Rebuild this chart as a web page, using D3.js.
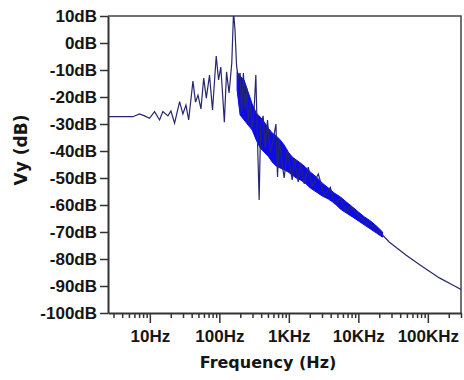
<!DOCTYPE html>
<html>
<head>
<meta charset="utf-8">
<script src="https://cdn.jsdelivr.net/npm/d3@7"></script>
<style>
  body { margin: 0; background: #fff; }
  .axis .tick text { font-family: "Liberation Sans", Arial, sans-serif; font-weight: bold; font-size: 17px; fill: #151515; }
  .axis path, .axis line { stroke: #333; }
  .title { font-family: "DejaVu Sans", Verdana, sans-serif; font-weight: bold; fill: #151515; }
</style>
</head>
<body>
<svg id="chart" width="464" height="380"></svg>
<script>
// trace (Hz, dB)
var traceHz = [2.5, 5.7, 7.1, 8.4, 9.9, 11.7, 13.8, 15.4, 18.2, 20.1, 22.7, 26.8, 29.9, 33.1, 36.2,
  41.7, 45.4, 49.3, 54.4, 59.6, 64.9, 72.2, 79.8, 90.2, 97.4, 105, 112, 118, 127, 138, 151, 160, 168,
  177, 188, 199, 209, 222, 235, 247, 259, 277, 297, 317, 335, 350, 374, 393, 427, 457, 493, 539, 596,
  652, 687, 727, 803, 858, 948, 1048, 1119, 1197, 1367, 1461, 1668, 1905, 2176, 2656, 3243, 3958,
  4520, 5516, 6734, 7691, 10700, 14950, 22300, 27800, 48300, 84100, 146600, 228000, 300000];
var traceDb = [-27.3, -27.3, -26.3, -27.0, -27.9, -25.4, -28.5, -25.4, -27.0, -25.2, -29.7, -21.7, -26.3, -23.0, -28.5,
  -14.1, -21.9, -19.3, -24.4, -13.0, -20.4, -11.9, -24.8, -4.8, -13.7, -8.9, -20.0, -29.3, -10.7, -18.5, -7.4, 11.5, 4.8,
  -8.5, -13.0, -11.1, -25.6, -11.1, -24.8, -16.7, -29.3, -21.9, -31.5, -24.1, -11.9, -31.5, -58.1, -30.4, -27.0, -38.9, -28.5, -40.4, -35.9,
  -30.0, -49.6, -35.9, -45.2, -50.0, -39.6, -46.3, -50.7, -42.6, -51.5, -44.4, -52.2, -46.0, -53.0, -48.5, -56.5, -53.5,
  -59.5, -57.5, -62.5, -60.5, -64.8, -67.4, -71.1, -73.7, -78.5, -82.9, -87.0, -89.6, -91.3];

// dense part of the trace, as its upper and lower envelope (Hz, dB)
var bandHz = [180, 199, 227, 259, 297, 339, 387, 442, 504, 576, 658, 751, 858, 980, 1119, 1279, 1461, 1725,
  2036, 2486, 3034, 3703, 4520, 5516, 6734, 8220, 10030, 12240, 14950, 18250, 22300];
var bandHi = [-10.7, -12.2, -13.7, -18.1, -22.6, -25.9, -27.4, -29.3, -31.5, -33.3, -34.4, -35.9, -37.8, -40.4, -42.2, -43.3, -44.4, -45.9,
  -47.8, -49.6, -51.9, -53.7, -55.6, -57.0, -58.9, -60.7, -62.6, -64.4, -65.9, -67.8, -70.0];
var bandLo = [-17.4, -26.7, -28.5, -30.4, -32.2, -35.9, -38.9, -40.4, -41.9, -44.1, -45.6, -46.3, -47.0, -47.8, -48.9, -50.0, -50.7, -51.9,
  -53.7, -55.2, -56.7, -57.8, -59.3, -61.5, -63.0, -64.4, -65.9, -67.4, -68.9, -70.4, -71.9];

var freqTicks = [10, 100, 1000, 10000, 100000];
var freqLabels = ["10Hz", "100Hz", "1KHz", "10KHz", "100KHz"];
var freqMinor = [3, 4, 5, 6, 7, 8, 9, 20, 30, 40, 50, 60, 70, 80, 90, 200, 300, 400, 500, 600, 700, 800, 900,
  2000, 3000, 4000, 5000, 6000, 7000, 8000, 9000, 20000, 30000, 40000, 50000, 60000, 70000, 80000, 90000, 200000, 300000];
var dbTicks = [10, 0, -10, -20, -30, -40, -50, -60, -70, -80, -90, -100];
var dbLabels = ["10dB", "0dB", "-10dB", "-20dB", "-30dB", "-40dB", "-50dB", "-60dB", "-70dB", "-80dB", "-90dB", "-100dB"];

var svg = d3.select("#chart"),
  margin = {top: 16, right: 3, bottom: 67, left: 108},
  width = +svg.attr("width") - margin.left - margin.right,
  height = +svg.attr("height") - margin.top - margin.bottom;
var g = svg.append("g").attr("transform", "translate(" + margin.left + "," + margin.top + ")");

var x = d3.scaleLog()
  .domain([2.5, 300000])
  .range([0, width]);

var y = d3.scaleLinear()
  .domain([-100, 10])
  .range([height, 0]);

g.append("clipPath").attr("id", "plotclip")
  .append("rect").attr("width", width).attr("height", height);

// frame (top and right)
g.append("path")
  .attr("d", "M0,0H" + width + "V" + height)
  .attr("fill", "none")
  .attr("stroke", "#444")
  .attr("stroke-width", 1.5);

var plot = g.append("g").attr("clip-path", "url(#plotclip)");

var bandData = bandHz.map(function (f, i) { return {f: f, hi: bandHi[i], lo: bandLo[i]}; });
var traceData = traceHz.map(function (f, i) { return {f: f, db: traceDb[i]}; });

var area = d3.area()
  .x(d => x(d.f))
  .y0(d => y(d.lo))
  .y1(d => y(d.hi));

plot.append("path")
  .attr("d", area(bandData))
  .attr("fill", "#0c0ce8")
  .attr("stroke", "#0c0ce8")
  .attr("stroke-width", 1);

var line = d3.line()
  .x(d => x(d.f))
  .y(d => y(d.db));

plot.append("path")
  .attr("d", line(traceData))
  .attr("fill", "none")
  .attr("stroke", "#27276e")
  .attr("stroke-width", 1.2);

// minor ticks on the frequency axis
g.append("g")
  .attr("class", "axis")
  .attr("transform", "translate(0," + height + ")")
  .call(d3.axisBottom(x).tickValues(freqMinor).tickSize(5).tickSizeOuter(0).tickFormat(""))
  .call(g => g.select(".domain").remove());

g.append("g")
  .attr("class", "axis")
  .attr("transform", "translate(0," + height + ")")
  .call(d3.axisBottom(x)
    .tickValues(freqTicks)
    .tickSize(10)
    .tickSizeOuter(0)
    .tickPadding(7)
    .tickFormat((d, i) => freqLabels[i]))
  .call(g => g.select(".domain").attr("stroke-width", 2));

g.append("g")
  .attr("class", "axis")
  .call(d3.axisLeft(y)
    .tickValues(dbTicks)
    .tickSize(8)
    .tickSizeOuter(0)
    .tickPadding(3)
    .tickFormat((d, i) => dbLabels[i]))
  .call(g => g.select(".domain").attr("stroke-width", 2));

g.selectAll(".axis .tick line").attr("stroke-width", 1.5);

// axis titles
svg.append("text")
  .attr("class", "title")
  .attr("transform", "translate(27,150) rotate(-90)")
  .attr("text-anchor", "middle")
  .style("font-size", "17px")
  .text("Vy (dB)");

svg.append("text")
  .attr("class", "title")
  .attr("x", 268)
  .attr("y", 368)
  .attr("text-anchor", "middle")
  .style("font-size", "16px")
  .text("Frequency (Hz)");
</script>
</body>
</html>
